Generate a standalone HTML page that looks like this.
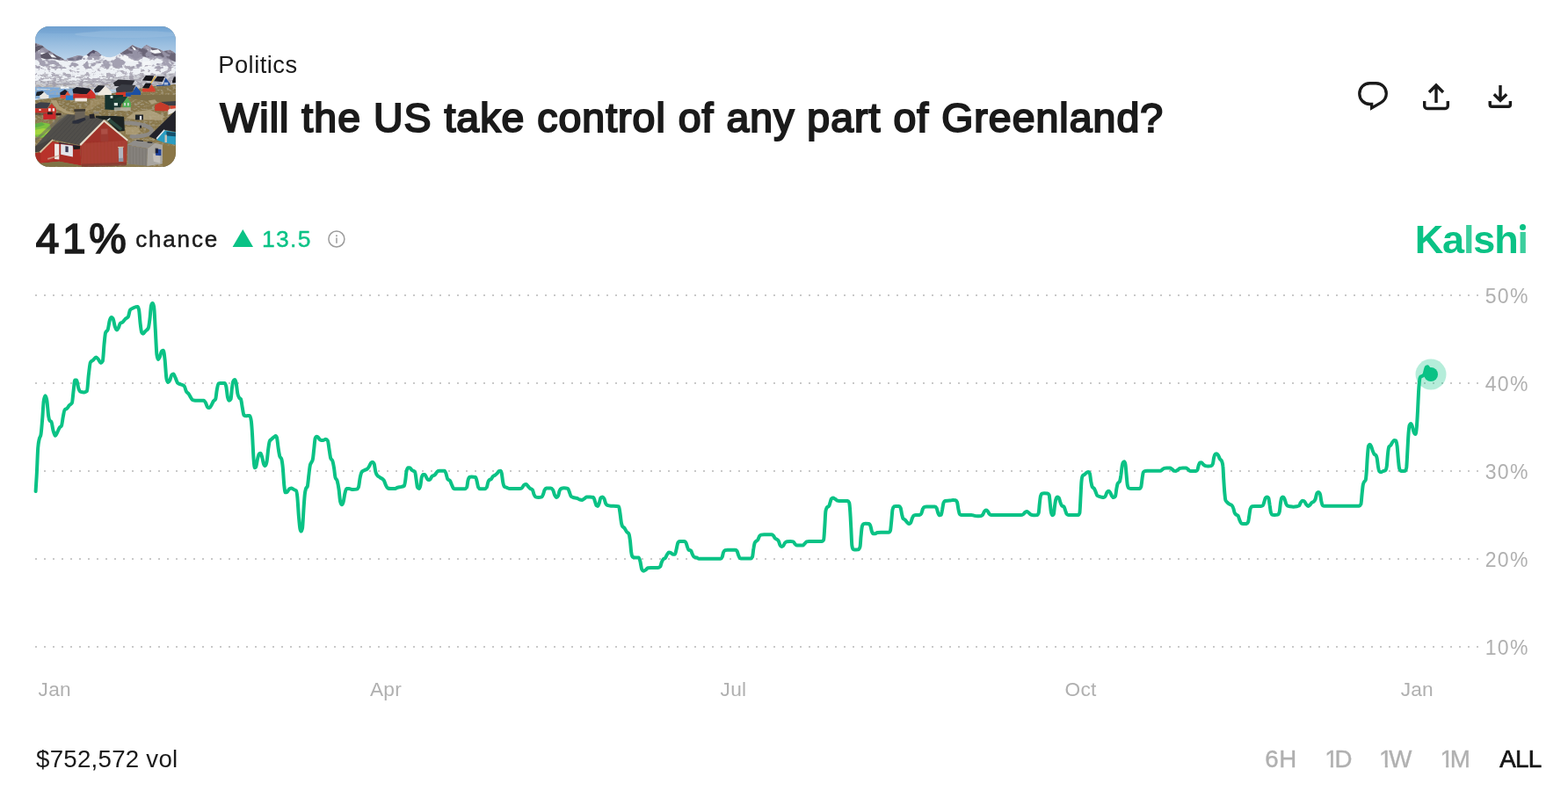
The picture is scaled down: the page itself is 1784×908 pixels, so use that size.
<!DOCTYPE html>
<html lang="en">
<head>
<meta charset="utf-8">
<title>Will the US take control of any part of Greenland? | Kalshi</title>
<style>
*{box-sizing:border-box;margin:0;padding:0}
html,body{width:1784px;height:908px;background:#fff;overflow:hidden}
body{position:relative;font-family:"Liberation Sans",Arial,Helvetica,sans-serif;color:#1a1a1a;-webkit-font-smoothing:antialiased}
.abs{position:absolute;white-space:nowrap;line-height:1}
.thumb{position:absolute;left:40px;top:30px;width:160px;height:160px;border-radius:16px;overflow:hidden;background:#8a8f8c}
.thumb svg{display:block;width:160px;height:160px}
.cat{left:248.2px;top:59.7px;font-size:27.3px;letter-spacing:0.5px;color:#1a1a1a}
h1.title{left:250.5px;top:111px;font-size:46.4px;font-weight:400;letter-spacing:1.05px;color:#1a1a1a;-webkit-text-stroke:2.1px #1a1a1a;paint-order:stroke fill}
.actions{position:absolute;left:1540px;top:88px;width:190px;height:44px}
.actions button{position:absolute;top:0;width:44px;height:44px;border:0;background:transparent;padding:0}
.actions svg{display:block;width:44px;height:44px;overflow:visible}
.pct{left:40.8px;top:247.6px;font-size:47.8px;font-weight:400;letter-spacing:3.6px;color:#1a1a1a;-webkit-text-stroke:1.7px #1a1a1a;paint-order:stroke fill}
.chance{left:154.3px;top:259px;font-size:26px;letter-spacing:1.8px;color:#1a1a1a;-webkit-text-stroke:0.5px #1a1a1a;paint-order:stroke fill}
.delta{left:298px;top:259px;font-size:26.5px;letter-spacing:1.3px;color:#0ac285;-webkit-text-stroke:0.4px #0ac285;paint-order:stroke fill}
.tri{position:absolute;left:263px;top:261px;width:26px;height:21px}
.info{position:absolute;left:372px;top:261px;width:22px;height:22px}
.logo{left:1609.7px;top:250px;font-size:45px;font-weight:700;letter-spacing:-1.15px;color:#0ac285}
.logo i{font-style:normal;color:#3bce9d}
.logo i.dot{position:relative}
.logo i.dot:before{content:"";position:absolute;left:-1px;top:0;width:12px;height:13.5px;background:#fff}
.logo i.dot:after{content:"";position:absolute;left:2.6px;top:8.1px;width:7px;height:7px;border-radius:50%;background:#0ac285}
#chart{position:absolute;left:0;top:0;width:1784px;height:908px;pointer-events:none}
#chart text{font-family:"Liberation Sans",Arial,Helvetica,sans-serif;font-size:22.7px;fill:#b0b0b0;letter-spacing:.2px}
#chart .ylab text{font-size:23.0px;letter-spacing:1.25px}
.vol{left:41.1px;top:849.55px;font-size:27.7px;letter-spacing:0.23px;color:#1a1a1a}
.ranges{position:absolute;left:0;top:0}
.ranges span{position:absolute;top:849.55px;font-size:27.7px;line-height:1;white-space:nowrap;color:#b0b0b0;letter-spacing:0;-webkit-text-stroke:0.35px #b0b0b0;paint-order:stroke fill}
.ranges span.on{color:#151515;-webkit-text-stroke:0.7px #151515}
.ranges b{font-weight:400;display:inline-block;letter-spacing:0;margin-right:-4.2px;clip-path:polygon(0 0,100% 0,100% calc(.7718em - 1.2px),calc(.3398em + .3px) calc(.7718em - 1.2px),calc(.3398em + .3px) 100%,calc(.2515em - .3px) 100%,calc(.2515em - .3px) calc(.7718em - 1.2px),0 calc(.7718em - 1.2px))}
</style>
</head>
<body>
<main>
<header>
  <div class="thumb">
    <svg viewBox="0 0 160 160" role="img" aria-label="Colorful houses in a Greenland town below snowy mountains"><defs><linearGradient id="sky" x1="0" y1="0" x2="0" y2="1"><stop offset="0" stop-color="#6c9fd0"/><stop offset=".06" stop-color="#80aed8"/><stop offset=".14" stop-color="#9bbfe0"/><stop offset=".24" stop-color="#b8d2ea"/><stop offset="1" stop-color="#b8d2ea"/></linearGradient><linearGradient id="grass" x1="0" y1="0" x2="0" y2="1"><stop offset="0" stop-color="#87764c"/><stop offset="1" stop-color="#8d7a4d"/></linearGradient><filter id="soft" x="-5%" y="-5%" width="110%" height="110%"><feGaussianBlur stdDeviation=".55"/></filter><filter id="rock" x="0" y="0" width="100%" height="100%"><feTurbulence type="fractalNoise" baseFrequency=".16 .22" numOctaves="3" seed="7" result="n"/><feColorMatrix in="n" type="matrix" values="0 0 0 0 .36  0 0 0 0 .34  0 0 0 0 .42  7 7 0 0 -7.25"/><feComposite operator="in" in2="SourceGraphic"/></filter><filter id="rock3" x="0" y="0" width="100%" height="100%"><feTurbulence type="fractalNoise" baseFrequency=".09 .13" numOctaves="3" seed="21" result="n"/><feColorMatrix in="n" type="matrix" values="0 0 0 0 .33  0 0 0 0 .31  0 0 0 0 .40  7 7 0 0 -6.75"/><feComposite operator="in" in2="SourceGraphic"/></filter><filter id="rock2" x="0" y="0" width="100%" height="100%"><feTurbulence type="fractalNoise" baseFrequency=".12 .4" numOctaves="3" seed="11" result="n"/><feColorMatrix in="n" type="matrix" values="0 0 0 0 .40  0 0 0 0 .39  0 0 0 0 .45  6 6 0 0 -5.9"/><feComposite operator="in" in2="SourceGraphic"/></filter><filter id="speck" x="0" y="0" width="100%" height="100%"><feTurbulence type="fractalNoise" baseFrequency=".3 .5" numOctaves="2" seed="3" result="n"/><feColorMatrix in="n" type="matrix" values="0 0 0 0 .45  0 0 0 0 .42  0 0 0 0 .33  3 3 0 0 -2.9"/><feComposite operator="in" in2="SourceGraphic"/></filter></defs><g filter="url(#soft)"><rect x="-2" y="-2" width="164" height="164" fill="url(#sky)"/><ellipse cx="105" cy="9" rx="60" ry="4" fill="#a3c3e2" opacity=".4"/><ellipse cx="30" cy="4" rx="45" ry="4" fill="#6f9fcf" opacity=".35"/><polygon points="0.0,18.8 4.1,20.5 8.3,22.1 13.1,26.3 17.8,28.7 24.4,33.0 30.1,35.8 33.9,38.6 37.7,36.7 43.4,34.8 49.1,33.1 54.7,34.1 58.5,32.5 62.3,29.2 66.1,26.8 70.8,28.7 75.6,33.0 81.2,35.0 86.0,35.3 90.7,33.9 96.4,31.1 101.1,28.0 104.9,25.4 108.2,23.0 110.6,21.1 113.0,22.5 115.3,23.5 118.2,24.4 121.0,25.4 123.9,23.0 126.7,21.1 129.5,22.5 132.4,24.0 135.2,24.4 138.1,24.9 141.9,26.3 145.6,28.2 149.4,27.6 153.2,26.8 157.0,28.7 159.8,31.1 159.8,71.8 0.0,71.8" fill="#eef1f5"/><polygon points="0.0,18.8 4.1,20.5 8.3,22.1 13.1,26.3 17.8,28.7 24.4,33.0 30.1,35.8 33.9,38.6 27.3,38.6 19.7,36.7 13.1,37.7 6.4,35.8 0.0,37.7" fill="#5d5868"/><polygon points="3.6,27.3 8.3,26.3 12.1,30.1 7.4,32.0 2.7,30.6" fill="#f2f4f7"/><polygon points="15.0,30.1 20.6,32.5 24.4,35.8 18.8,35.3" fill="#f2f4f7"/><polygon points="58.5,32.5 62.3,29.2 66.1,26.8 70.8,28.7 75.6,33.0 71.8,34.4 66.1,33.4 61.4,34.4" fill="#55516a"/><polygon points="35.8,36.7 43.4,34.8 49.1,33.1 54.7,34.1 52.8,37.7 45.3,39.6 37.7,39.1" fill="#77748a"/><polygon points="96.4,31.1 101.1,28.0 104.9,25.4 108.2,23.0 110.6,21.1 113.0,22.5 115.3,23.5 118.2,24.4 121.0,25.4 123.9,23.0 126.7,21.1 129.5,22.5 132.4,24.0 135.2,24.4 138.1,24.9 141.9,26.3 145.6,28.2 149.4,27.6 153.2,26.8 157.0,28.7 159.8,31.1 159.8,40.5 151.3,37.7 143.8,35.8 136.2,33.9 128.6,35.8 122.0,33.9 114.4,37.7 107.8,33.9 102.1,33.9" fill="#6a6577"/><polygon points="109.7,22.5 113.4,24.4 116.3,28.2 112.5,27.3" fill="#f4f6f8"/><polygon points="124.8,22.5 128.6,23.5 133.3,27.3 140.0,26.3 143.8,30.1 136.2,31.1 128.6,28.2" fill="#f4f6f8"/><polygon points="94.5,33.0 102.1,32.0 109.7,35.8 111.6,40.5 100.2,38.6" fill="#f4f6f8"/><polygon points="118.2,40.5 130.5,39.6 133.3,46.2 119.1,47.2 112.5,45.3" fill="#f4f6f8"/><clipPath id="mt"><polygon points="0.0,18.8 4.1,20.5 8.3,22.1 13.1,26.3 17.8,28.7 24.4,33.0 30.1,35.8 33.9,38.6 37.7,36.7 43.4,34.8 49.1,33.1 54.7,34.1 58.5,32.5 62.3,29.2 66.1,26.8 70.8,28.7 75.6,33.0 81.2,35.0 86.0,35.3 90.7,33.9 96.4,31.1 101.1,28.0 104.9,25.4 108.2,23.0 110.6,21.1 113.0,22.5 115.3,23.5 118.2,24.4 121.0,25.4 123.9,23.0 126.7,21.1 129.5,22.5 132.4,24.0 135.2,24.4 138.1,24.9 141.9,26.3 145.6,28.2 149.4,27.6 153.2,26.8 157.0,28.7 159.8,31.1 159.8,71.8 0.0,71.8"/></clipPath><g clip-path="url(#mt)"><rect x="0" y="14" width="160" height="34" fill="#000" filter="url(#rock3)" opacity=".9"/><rect x="0" y="44" width="160" height="30" fill="#000" filter="url(#rock)" opacity=".8"/><rect x="0" y="54" width="160" height="20" fill="#000" filter="url(#rock2)" opacity=".7"/></g><polygon points="0.0,62.3 33.9,61.4 71.8,62.3 100.2,56.6 119.1,56.6 159.8,52.8 159.8,71.8 0.0,71.8" fill="#8b8a95" opacity=".35"/><polygon points="0.0,68.9 27.3,69.4 45.3,69.9 49.1,82.0 0.0,82.0" fill="#7ea9d8"/><polygon points="28.2,68.2 37.7,68.5 39.1,70.8 29.2,71.0" fill="#f4f7fa"/><polygon points="1.7,70.8 16.9,71.3 16.9,72.3 1.7,72.0" fill="#c9dcee"/><path d="M0 84 L30 80 L60 79 L88 76 L110 72 L135 68 L160 66 L160 162 L0 162 Z" fill="url(#grass)"/><rect x="0" y="66" width="160" height="96" fill="#000" filter="url(#speck)" opacity=".55"/><polygon points="1.7,74.6 8.3,73.5 10.2,75.1 5.5,78.9 0.8,78.9" fill="#1d222c"/><polygon points="5.5,78.9 10.2,74.8 15.4,79.4 15.4,82.0 5.5,82.0" fill="#e9e6e1"/><polygon points="28.2,75.6 33.9,71.8 37.7,74.6 33.9,78.4 28.7,79.4" fill="#1b1f29"/><polygon points="28.7,79.4 33.9,78.2 36.7,73.7 40.1,78.4 40.1,82.0 28.7,82.0" fill="#e2553a"/><polygon points="42.4,71.8 47.2,68.9 62.3,70.8 64.2,74.6 58.5,77.5 43.4,76.5" fill="#1a1d27"/><polygon points="43.4,76.5 58.5,77.3 63.7,71.8 68.5,77.5 68.5,82.0 43.4,82.0" fill="#d0302a"/><polygon points="67.0,71.8 71.8,67.0 79.4,67.5 74.6,74.6 68.0,75.6" fill="#23252d"/><polygon points="71.3,76.5 79.8,67.8 86.9,74.6 86.9,78.4 71.3,78.4" fill="#efe9df"/><polygon points="88.8,64.2 94.5,60.4 113.4,61.4 109.7,68.0 90.7,68.0" fill="#2a2c33"/><polygon points="91.7,70.8 98.3,66.1 114.4,67.0 110.6,74.6 92.6,75.6" fill="#3a3d45"/><polygon points="91.7,75.6 103.0,74.6 103.0,80.3 91.7,80.3" fill="#cf3a2b"/><polygon points="103.0,75.6 110.6,75.1 114.9,68.0 120.1,74.6 120.1,79.4 103.0,79.8" fill="#1f4fa3"/><polygon points="122.0,61.4 125.8,55.9 135.2,56.2 132.4,62.3" fill="#15171e"/><polygon points="122.0,69.9 125.8,64.4 132.4,64.7 129.5,70.8" fill="#15171e"/><polygon points="122.0,70.8 129.1,70.8 132.4,66.1 136.6,71.8 136.6,74.6 122.0,74.6" fill="#d6402f"/><polygon points="131.0,64.4 136.6,56.6 137.8,57.1 132.1,65.0" fill="#e2b23c"/><polygon points="135.2,62.3 139.0,56.8 147.5,57.1 144.7,63.3" fill="#1b1d25"/><polygon points="138.1,67.0 145.2,66.6 148.5,58.5 153.7,65.6 153.7,67.2 138.1,68.0" fill="#1d4a9a"/><polygon points="146.6,63.7 151.3,63.7 151.3,66.6 146.6,66.6" fill="#e8eaee" opacity=".7"/><polygon points="156.1,62.3 158.0,57.6 159.8,57.4 159.8,64.2 156.1,64.4" fill="#14161c"/><polygon points="5.5,78.0 15.4,78.0 15.4,80.8 5.5,80.8" fill="#e9e6e1"/><polygon points="34.8,78.5 43.4,78.5 43.4,83.9 34.8,83.9" fill="#2b7fd0"/><polygon points="43.4,78.0 62.3,78.0 62.3,81.8 43.4,81.8" fill="#c52f2a"/><polygon points="45.3,81.6 59.0,81.6 59.0,85.4 45.3,85.4" fill="#efe9e2"/><polygon points="28.7,78.0 34.8,78.0 34.8,80.8 28.7,80.8" fill="#d94a35"/><polygon points="15.9,78.0 28.2,78.0 28.2,80.4 15.9,80.4" fill="#6fa0cf"/><polygon points="17.8,83.7 24.4,84.6 27.3,90.3 35.8,96.0 45.3,98.8 43.4,100.7 33.0,98.4 24.4,93.2 19.7,87.5" fill="#b3a27b" opacity=".85"/><polygon points="62.3,83.7 79.4,81.8 79.4,85.6 68.0,91.3 58.5,96.9 54.7,96.0 62.3,88.4" fill="#a8966c" opacity=".6"/><polygon points="0.0,88.4 5.5,86.3 17.3,87.0 14.0,93.6 0.0,93.2" fill="#3e4048"/><polygon points="0.0,93.2 14.0,93.6 18.8,87.9 24.0,94.1 24.0,98.4 0.0,98.4" fill="#c7312b"/><polygon points="15.0,93.2 17.8,93.2 17.8,96.5 15.0,96.5" fill="#f0ece6"/><polygon points="19.7,93.2 22.1,93.2 22.1,96.5 19.7,96.5" fill="#f0ece6"/><polygon points="4.4,94.1 6.6,94.1 6.6,96.0 4.4,96.0" fill="#f0ece6"/><polygon points="0.0,98.4 14.0,98.4 14.0,101.2 0.0,101.2" fill="#4a3f36" opacity=".6"/><polygon points="9.3,99.3 23.5,98.6 23.5,105.5 9.3,105.9" fill="#c9252a"/><polygon points="14.0,97.4 19.7,97.4 19.7,100.3 14.0,100.3" fill="#2a1f1c"/><polygon points="23.5,98.4 29.6,98.8 29.6,101.2 23.5,101.2" fill="#2a1f1c"/><polygon points="0.0,111.1 7.4,109.2 16.4,110.7 18.3,117.8 16.9,125.3 6.4,126.8 0.0,125.3" fill="#7fc241"/><polygon points="0.0,117.8 9.3,115.9 18.3,117.8 17.3,122.5 7.4,122.5 0.0,123.5" fill="#a5d63f"/><polygon points="0.0,111.1 7.4,109.2 11.2,112.1 3.6,114.5 0.0,114.9" fill="#5fae46"/><polygon points="79.4,78.0 100.2,78.0 99.2,83.7 96.4,95.5 79.4,94.6" fill="#17332d"/><polygon points="88.8,83.7 96.4,79.9 104.9,79.9 100.2,87.5 89.8,88.4" fill="#1f3f36"/><polygon points="99.7,87.5 104.9,80.4 108.9,87.0 108.9,92.2 99.7,92.2" fill="#4fae55"/><polygon points="89.8,87.0 94.0,87.0 94.0,90.3 89.8,90.3" fill="#d9e5df"/><polygon points="85.5,78.9 88.4,78.9 88.4,81.8 85.5,81.8" fill="#d9e5df"/><polygon points="101.1,87.0 103.0,87.0 103.0,90.3 101.1,90.3" fill="#c9d6c8"/><polygon points="104.9,87.0 106.8,87.0 106.8,90.3 104.9,90.3" fill="#c9d6c8"/><polygon points="89.8,92.2 108.7,92.2 108.7,96.0 89.8,96.0" fill="#b9b6a8" opacity=".8"/><polygon points="108.7,78.0 159.8,78.0 159.8,85.6 138.1,86.5 119.1,83.7 109.7,81.8" fill="#7f7048"/><polygon points="128.6,84.6 136.2,83.2 139.0,86.5 132.4,88.4" fill="#b7a988" opacity=".8"/><polygon points="114.4,96.9 130.5,95.0 147.5,102.6 143.8,106.4 119.1,106.4 103.0,104.5" fill="#b7a988" opacity=".75"/><polygon points="142.8,86.0 159.8,85.1 159.8,90.3 151.3,90.3" fill="#3b3c44"/><polygon points="136.2,89.4 142.6,86.3 152.3,90.3 153.2,96.5 136.2,96.0" fill="#c63a2b"/><polygon points="151.3,95.0 159.8,90.3 159.8,96.9 151.3,100.7" fill="#e6e3de"/><polygon points="153.2,90.3 159.8,90.3 159.8,93.2 154.2,94.1" fill="#d74432"/><polygon points="113.9,100.5 122.9,100.5 122.9,106.4 113.9,106.4" fill="#1c2026"/><polygon points="118.9,101.9 121.2,101.9 121.2,106.4 118.9,106.4" fill="#eeeeee"/><path d="M103.0 109.7 C 119.1 110.2, 134.3 114.0, 132.4 119.7 C 130.5 124.4, 119.1 125.3, 109.7 125.3" fill="none" stroke="#8d8a86" stroke-width="4.6" stroke-linecap="round"/><polygon points="103.0,114.0 117.2,114.9 120.1,119.7 114.4,123.5 103.0,122.5" fill="#b5a57f" opacity=".7"/><polygon points="119.1,112.8 121.0,112.8 121.0,115.7 119.1,115.7" fill="#2a2a2e"/><polygon points="68.9,101.7 90.7,102.1 101.1,102.8 101.9,118.7 94.5,119.7 81.2,106.4 68.9,105.5" fill="#1a2422"/><polygon points="81.2,106.4 85.0,104.5 99.2,115.9 97.3,118.7" fill="#2d4a3f"/><polygon points="81.7,106.6 85.0,104.3 85.8,105.0 82.7,107.4" fill="#dfe5df"/><polygon points="159.8,95.5 129.5,125.3 138.1,128.7 147.5,117.8 159.8,120.1" fill="#20232b"/><polygon points="138.1,128.7 147.5,118.2 159.8,120.6 159.8,134.8 147.5,132.5 139.0,129.6" fill="#2a9cc2"/><polygon points="137.6,127.2 146.6,117.3 147.7,118.2 138.8,128.4" fill="#e8eef2"/><polygon points="149.4,119.7 159.8,121.1 159.8,125.3 149.4,124.4" fill="#17506b"/><polygon points="147.5,123.5 149.9,123.5 149.9,132.0 147.5,132.0" fill="#c9c5ba"/><polygon points="36.7,100.0 62.3,101.7 78.4,106.4 50.9,135.3 19.7,128.7 0.0,139.6 0.0,136.7 27.3,106.4" fill="#514f4c"/><polygon points="0.0,136.7 19.7,127.2 19.7,129.6 5.0,142.4 0.0,143.3" fill="#444340"/><polygon points="29.2,100.7 37.7,100.3 27.3,109.2 0.0,131.0 0.0,128.2" fill="#6a6761" opacity=".55"/><line x1="40.5" y1="101.2" x2="13.1" y2="129.6" stroke="#3c3a37" stroke-width=".5" opacity=".6"/><line x1="44.8" y1="101.8" x2="17.6" y2="130.3" stroke="#3c3a37" stroke-width=".5" opacity=".6"/><line x1="49.1" y1="102.3" x2="22.2" y2="130.9" stroke="#3c3a37" stroke-width=".5" opacity=".6"/><line x1="53.3" y1="102.9" x2="26.7" y2="131.6" stroke="#3c3a37" stroke-width=".5" opacity=".6"/><line x1="57.6" y1="103.5" x2="31.2" y2="132.3" stroke="#3c3a37" stroke-width=".5" opacity=".6"/><line x1="61.8" y1="104.0" x2="35.8" y2="132.9" stroke="#3c3a37" stroke-width=".5" opacity=".6"/><line x1="66.1" y1="104.6" x2="40.3" y2="133.6" stroke="#3c3a37" stroke-width=".5" opacity=".6"/><line x1="70.4" y1="105.2" x2="44.9" y2="134.2" stroke="#3c3a37" stroke-width=".5" opacity=".6"/><line x1="74.6" y1="105.7" x2="49.4" y2="134.9" stroke="#3c3a37" stroke-width=".5" opacity=".6"/><polygon points="45.3,96.0 56.6,95.5 56.6,106.4 45.3,107.8" fill="#6b6358"/><polygon points="44.3,94.3 57.1,93.9 57.1,96.5 44.3,96.9" fill="#3a3733"/><polygon points="42.4,107.8 56.6,103.4 57.6,106.4 49.1,110.7 42.4,110.7" fill="#2c2f3a"/><polygon points="61.4,100.3 67.0,99.3 68.0,104.5 62.3,105.0" fill="#23242a"/><polygon points="66.6,97.4 72.7,96.9 72.7,99.3 66.6,99.6" fill="#8a8479"/><polygon points="0.0,144.3 5.5,143.3 19.7,131.0 50.9,136.0 52.8,158.5 27.3,153.8 6.4,155.7 0.0,150.0" fill="#a92d27"/><polygon points="6.4,143.3 19.7,131.5 21.6,132.0 21.6,151.9 6.4,155.2" fill="#b8332b"/><polygon points="5.0,142.4 19.7,128.2 20.5,129.6 6.0,144.3" fill="#d9c2a1"/><polygon points="22.1,133.4 27.3,133.9 27.3,151.4 22.1,150.9" fill="#eeeae6"/><polygon points="29.2,133.9 42.9,135.8 42.9,148.5 29.2,145.7" fill="#e3e5ea"/><polygon points="34.4,136.2 37.7,136.7 37.7,143.3 34.4,142.9" fill="#3a3b55"/><polygon points="27.3,132.0 50.9,136.0 50.9,138.6 42.9,137.2 42.9,135.3 29.2,133.4 27.3,133.9" fill="#2a2438"/><polygon points="43.4,136.7 50.9,136.0 51.4,139.6 43.8,140.0" fill="#1b1a1d"/><polygon points="50.9,135.8 78.4,108.8 104.9,130.3 104.0,156.8 52.8,158.7" fill="#a0362c"/><polygon points="52.8,134.8 77.5,110.7 78.4,131.0 53.8,134.8" fill="#a02d26" opacity=".5"/><line x1="54.7" y1="131.0" x2="55.3" y2="157.5" stroke="#8e2620" stroke-width=".55" opacity=".55"/><line x1="58.7" y1="131.0" x2="59.3" y2="157.5" stroke="#8e2620" stroke-width=".55" opacity=".55"/><line x1="62.7" y1="131.0" x2="63.3" y2="157.5" stroke="#8e2620" stroke-width=".55" opacity=".55"/><line x1="66.7" y1="131.0" x2="67.2" y2="157.5" stroke="#8e2620" stroke-width=".55" opacity=".55"/><line x1="70.6" y1="131.0" x2="71.2" y2="157.5" stroke="#8e2620" stroke-width=".55" opacity=".55"/><line x1="74.6" y1="131.0" x2="75.2" y2="157.5" stroke="#8e2620" stroke-width=".55" opacity=".55"/><line x1="78.6" y1="131.0" x2="79.2" y2="157.5" stroke="#8e2620" stroke-width=".55" opacity=".55"/><line x1="82.6" y1="131.0" x2="83.1" y2="157.5" stroke="#8e2620" stroke-width=".55" opacity=".55"/><line x1="86.6" y1="131.0" x2="87.1" y2="157.5" stroke="#8e2620" stroke-width=".55" opacity=".55"/><line x1="90.5" y1="131.0" x2="91.1" y2="157.5" stroke="#8e2620" stroke-width=".55" opacity=".55"/><line x1="94.5" y1="131.0" x2="95.1" y2="157.5" stroke="#8e2620" stroke-width=".55" opacity=".55"/><line x1="98.5" y1="131.0" x2="99.1" y2="157.5" stroke="#8e2620" stroke-width=".55" opacity=".55"/><line x1="102.5" y1="131.0" x2="103.0" y2="157.5" stroke="#8e2620" stroke-width=".55" opacity=".55"/><polygon points="52.8,132.9 104.0,130.1 104.0,157.1 52.8,158.7" fill="#b4503f" opacity=".45"/><polygon points="74.1,115.9 83.1,115.7 83.3,131.0 74.4,131.2" fill="#9c3a31"/><polygon points="75.1,116.8 82.4,116.6 82.5,122.5 75.2,122.7" fill="#b55a4e" opacity=".7"/><polygon points="94.7,137.8 100.0,137.7 100.2,153.8 95.1,153.9" fill="#b0b6c0"/><polygon points="94.1,136.9 100.6,136.7 100.6,137.8 94.1,138.0" fill="#d8c9a8"/><polygon points="95.1,150.0 100.2,149.8 100.2,153.9 95.1,154.1" fill="#8e96a3"/><polygon points="50.5,133.9 78.2,106.2 79.7,107.5 51.9,136.0" fill="#e6dccb"/><polygon points="78.2,106.2 105.9,129.1 104.9,130.7 77.5,108.1" fill="#e6dccb"/><polygon points="52.8,156.6 104.0,154.7 104.0,158.5 52.8,160.4" fill="#7d3a30" opacity=".7"/><polygon points="14.0,150.0 27.3,146.2 27.7,147.6 14.5,151.7" fill="#caa58f" opacity=".8"/><polygon points="104.5,134.8 113.0,129.6 136.2,132.5 128.1,138.8" fill="#8f8d8a"/><polygon points="104.9,135.3 128.1,139.1 127.2,159.0 105.4,156.6" fill="#85817b"/><polygon points="128.1,139.1 136.2,132.7 145.2,134.8 144.7,156.6 127.2,159.0" fill="#a9a6a0"/><polygon points="133.8,144.3 142.3,148.1 142.3,155.7 134.8,153.8" fill="#c9c6c0" opacity=".8"/><polygon points="137.1,139.6 143.3,140.0 143.3,147.1 137.1,146.7" fill="#1f3f9a"/><polygon points="136.6,138.6 140.0,138.8 140.0,144.3 136.6,144.3" fill="#10131a" opacity=".7"/><line x1="107.8" y1="136.2" x2="108.0" y2="157.1" stroke="#6d6964" stroke-width=".5" opacity=".7"/><line x1="111.4" y1="136.8" x2="111.6" y2="157.4" stroke="#6d6964" stroke-width=".5" opacity=".7"/><line x1="115.0" y1="137.4" x2="115.2" y2="157.6" stroke="#6d6964" stroke-width=".5" opacity=".7"/><line x1="118.6" y1="137.9" x2="118.8" y2="157.9" stroke="#6d6964" stroke-width=".5" opacity=".7"/><line x1="122.2" y1="138.5" x2="122.3" y2="158.2" stroke="#6d6964" stroke-width=".5" opacity=".7"/><line x1="125.8" y1="139.1" x2="125.9" y2="158.5" stroke="#6d6964" stroke-width=".5" opacity=".7"/><polygon points="115.3,129.1 122.9,129.9 122.9,131.0 115.3,130.3" fill="#2a2a2a"/><polygon points="127.7,131.0 133.3,131.6 133.3,132.9 127.7,132.4" fill="#2a2a2a"/><polygon points="145.2,134.8 159.8,136.7 159.8,159.6 145.2,159.6" fill="#8a7646"/><polygon points="0.0,156.6 27.3,153.8 52.8,158.5 52.8,159.6 0.0,159.6" fill="#7f7345"/><polygon points="104.0,156.6 128.6,159.0 128.6,159.6 104.0,159.6" fill="#8a7c52"/></g></svg>
  </div>
  <div class="abs cat">Politics</div>
  <h1 class="abs title">Will the US take control of any part of Greenland?</h1>
  <nav class="actions">
    <button aria-label="Comments" style="left:0"><svg viewBox="0 0 44 44"><path d="M18.500 6.750H25.500C32.200 6.750 37.300 11.700 37.300 18.400C37.300 23 35 26.300 31 28.800L20.650 34.950L20.650 30.500H18.500C11.800 30.500 6.750 25.200 6.750 18.500C6.750 11.700 11.800 6.750 18.500 6.750Z" fill="none" stroke="#1a1a1a" stroke-width="3.300" stroke-linejoin="miter"/></svg></button>
    <button aria-label="Share" style="left:72px"><svg viewBox="0 0 44 44"><path d="M22 28.900V9.500M14 17l8-8 8 8" fill="none" stroke="#1a1a1a" stroke-width="3.400" stroke-linecap="butt" stroke-linejoin="miter"/><path d="M8.700 27v5.500a3 3 0 0 0 3 3h20.600a3 3 0 0 0 3-3V27" fill="none" stroke="#1a1a1a" stroke-width="3.400"/></svg></button>
    <button aria-label="Download" style="left:145px"><svg viewBox="0 0 44 44"><path d="M22 9v17.500M14.800 19.200l7.200 7.200 7.200-7.200" fill="none" stroke="#1a1a1a" stroke-width="3.400"/><path d="M10.200 27v4a2.300 2.300 0 0 0 2.300 2.300h18.600a2.300 2.300 0 0 0 2.300-2.300V27" fill="none" stroke="#1a1a1a" stroke-width="3.400"/></svg></button>
  </nav>
</header>
<section>
  <div class="abs pct">41%</div>
  <div class="abs chance">chance</div>
  <svg class="tri" viewBox="0 0 26 21"><path d="M13.3 0.1 L25 19.9 L1.6 19.9 Z" fill="#0ac285"/></svg>
  <div class="abs delta">13.5</div>
  <svg class="info" viewBox="0 0 22 22"><circle cx="10.9" cy="11" r="9" fill="none" stroke="#9c9c9c" stroke-width="1.5"/><rect x="10.2" y="9.5" width="1.5" height="6.3" fill="#9c9c9c"/><circle cx="10.95" cy="7.2" r="1" fill="#9c9c9c"/></svg>
  <div class="abs logo">Ka<i>l</i>sh<i class="dot">i</i></div>
</section>
<svg id="chart" viewBox="0 0 1784 908">
  <g stroke="#c9c9c9" stroke-width="2" stroke-dasharray="2 8" fill="none">
    <path d="M40 336H1682"/><path d="M40 436H1682"/><path d="M40 536H1682"/><path d="M40 636H1682"/><path d="M40 736H1682"/>
  </g>
  <g class="ylab" text-anchor="end">
    <text x="1739.6" y="344.5">50%</text>
    <text x="1739.6" y="444.5">40%</text>
    <text x="1739.6" y="544.5">30%</text>
    <text x="1739.6" y="644.5">20%</text>
    <text x="1739.6" y="744.5">10%</text>
  </g>
  <g>
    <text x="43.6" y="792">Jan</text>
    <text x="421" y="792">Apr</text>
    <text x="819.6" y="792">Jul</text>
    <text x="1211.6" y="792">Oct</text>
    <text x="1593.7" y="792">Jan</text>
  </g>
  <path id="line" fill="none" stroke="#0ac285" stroke-width="4" stroke-linejoin="round" stroke-linecap="round" d="M40.6,559.1C41.0,551.9 41.5,545.7 41.9,537.5C42.3,529.3 42.8,515.5 43.2,509.7C43.7,503.0 44.2,502.1 44.7,499.6C45.3,496.6 45.9,497.9 46.5,494.5C47.1,491.3 47.6,483.6 48.2,476.8C48.7,470.8 49.2,460.0 49.7,456.5C50.3,452.3 50.9,450.2 51.5,450.2C52.1,450.2 52.7,451.9 53.3,455.3C54.0,459.1 54.6,470.3 55.3,474.2C55.7,476.7 56.2,478.3 56.6,478.8C57.2,479.5 57.8,479.1 58.4,479.8C59.1,480.5 59.7,486.9 60.4,489.4C61.2,492.6 62.1,495.8 62.9,495.8C63.7,495.8 64.6,493.1 65.4,491.5C66.1,490.1 66.8,488.1 67.5,486.9C68.3,485.5 69.2,486.1 70.0,484.4C70.6,483.2 71.2,477.2 71.8,474.2C72.4,471.3 72.9,467.4 73.5,466.6C74.4,465.3 75.4,465.6 76.3,464.6C77.2,463.7 78.0,462.1 78.9,461.1C79.9,460.0 80.9,460.2 81.9,458.5C82.5,457.5 83.1,448.6 83.7,443.9C84.2,440.0 84.7,432.5 85.2,432.5C85.9,432.5 86.5,432.5 87.2,432.5C87.9,432.5 88.5,439.1 89.2,441.3C90.1,444.3 91.1,445.7 92.0,445.9C93.3,446.2 94.5,446.4 95.8,446.4C96.8,446.4 97.9,446.0 98.9,445.1C99.6,444.5 100.2,431.6 100.9,426.1C101.6,420.6 102.2,413.3 102.9,412.2C103.9,410.5 104.9,410.6 105.9,409.7C107.0,408.7 108.1,406.6 109.2,406.6C110.0,406.6 110.7,407.6 111.5,408.4C112.6,409.5 113.7,413.0 114.8,413.0C115.5,413.0 116.1,412.3 116.8,410.9C117.4,409.6 118.0,396.4 118.6,390.7C119.1,385.9 119.6,379.8 120.1,378.5C121.0,376.2 121.8,377.3 122.7,375.0C123.4,373.0 124.2,366.2 124.9,364.1C125.6,362.1 126.3,361.1 127.0,361.1C127.6,361.1 128.1,361.7 128.7,362.8C129.4,364.2 130.1,369.6 130.8,371.7C131.5,373.7 132.1,375.5 132.8,375.5C133.5,375.5 134.1,374.3 134.8,373.0C135.5,371.7 136.1,368.6 136.8,367.9C137.7,367.0 138.5,367.3 139.4,366.6C140.5,365.7 141.6,363.9 142.7,362.8C143.8,361.8 144.8,362.0 145.9,360.3C146.6,359.2 147.3,353.6 148.0,352.7C149.0,351.4 150.0,351.2 151.0,350.7C152.0,350.1 153.1,349.7 154.1,349.4C154.9,349.2 155.8,348.9 156.6,348.9C157.1,348.9 157.6,350.2 158.1,352.7C158.6,355.2 159.1,363.7 159.6,367.9C160.1,372.1 160.6,377.0 161.1,378.0C161.7,379.2 162.3,379.8 162.9,379.8C163.7,379.8 164.6,377.7 165.4,376.8C166.5,375.6 167.6,375.7 168.7,373.5C169.3,372.3 169.9,367.7 170.5,362.8C171.0,358.7 171.5,349.4 172.0,347.7C172.5,346.0 173.0,345.1 173.5,345.1C174.0,345.1 174.6,346.4 175.1,348.9C175.7,351.6 176.2,366.1 176.8,375.5C177.3,384.3 177.9,399.5 178.4,403.4C178.9,407.1 179.4,408.9 179.9,408.9C180.6,408.9 181.2,407.4 181.9,405.9C182.6,404.3 183.2,400.1 183.9,399.6C184.6,399.1 185.2,398.8 185.9,398.8C186.4,398.8 187.0,403.9 187.5,408.4C188.2,414.0 188.8,428.4 189.5,431.2C190.1,433.7 190.7,435.0 191.3,435.0C192.0,435.0 192.6,433.9 193.3,432.5C194.0,431.1 194.6,427.3 195.3,426.6C196.0,425.9 196.6,425.6 197.3,425.6C198.1,425.6 198.8,428.3 199.6,429.9C200.5,431.7 201.3,435.0 202.2,435.8C203.4,436.9 204.7,436.9 205.9,437.5C207.2,438.1 208.4,438.1 209.7,439.3C210.4,440.0 211.1,443.6 211.8,445.1C212.8,447.2 213.8,447.0 214.8,448.4C215.6,449.6 216.5,451.5 217.3,452.7C218.0,453.7 218.7,454.9 219.4,455.2C220.3,455.5 221.1,455.7 222.0,455.7C225.3,455.7 228.6,455.7 231.9,455.7C232.6,455.7 233.4,457.2 234.1,458.5C234.8,459.8 235.6,463.3 236.3,463.6C237.0,463.9 237.8,464.1 238.5,464.1C239.2,464.1 240.0,462.0 240.7,460.7C241.5,459.4 242.2,457.4 243.0,456.3C243.7,455.2 244.5,455.6 245.2,454.1C245.7,453.1 246.2,447.0 246.7,444.2C247.3,440.9 247.9,436.8 248.5,436.5C249.2,436.1 250.0,435.9 250.7,435.9C252.3,435.9 253.9,435.9 255.5,435.9C256.1,435.9 256.7,437.2 257.3,439.8C257.9,442.3 258.4,449.5 259.0,451.9C259.6,454.4 260.2,455.7 260.8,455.7C261.4,455.7 262.0,455.2 262.6,454.1C263.0,453.3 263.5,445.3 263.9,442.0C264.4,438.2 264.9,434.7 265.4,433.7C265.9,432.6 266.5,432.1 267.0,432.1C267.5,432.1 268.0,433.1 268.5,435.0C269.2,437.6 269.8,445.7 270.5,448.6C271.1,451.1 271.6,451.7 272.2,452.6C272.8,453.6 273.4,453.1 274.0,454.1C274.6,455.1 275.2,461.0 275.8,464.1C276.4,467.1 276.9,471.9 277.5,472.4C278.2,473.0 279.0,473.3 279.7,473.3C281.2,473.3 282.6,472.9 284.1,472.9C284.7,472.9 285.3,475.1 285.9,479.5C286.3,482.7 286.8,490.1 287.2,497.1C287.6,504.1 288.1,515.5 288.5,521.3C289.0,527.6 289.4,532.3 289.9,532.3C290.3,532.3 290.8,531.9 291.2,531.2C291.8,530.2 292.4,524.9 293.0,522.4C293.6,520.0 294.1,516.9 294.7,516.5C295.3,516.0 295.9,515.8 296.5,515.8C297.1,515.8 297.6,518.3 298.2,520.2C298.8,522.2 299.4,526.4 300.0,527.9C300.6,529.4 301.2,530.1 301.8,530.1C302.4,530.1 302.9,528.6 303.5,525.7C304.1,522.6 304.7,514.5 305.3,510.3C305.8,506.8 306.3,502.9 306.8,501.9C307.5,500.4 308.3,500.4 309.0,499.7C310.0,498.8 310.9,497.8 311.9,497.1C312.5,496.7 313.1,496.0 313.7,496.0C314.1,496.0 314.6,496.7 315.0,498.2C315.6,500.1 316.1,506.7 316.7,510.3C317.2,513.7 317.8,517.3 318.3,519.1C319.0,521.3 319.6,520.2 320.3,522.4C320.8,524.0 321.3,527.3 321.8,532.3C322.3,537.3 322.8,547.5 323.3,552.2C323.8,556.6 324.2,560.3 324.7,560.3C325.4,560.3 326.0,560.2 326.7,559.9C327.4,559.6 328.2,557.3 328.9,556.6C329.7,555.9 330.5,555.5 331.3,555.5C332.3,555.5 333.4,556.5 334.4,557.0C335.3,557.4 336.1,557.4 337.0,558.3C337.4,558.7 337.9,561.4 338.3,565.4C338.8,570.3 339.4,581.2 339.9,587.4C340.4,593.2 340.9,599.5 341.4,601.7C341.8,603.6 342.3,604.6 342.7,604.6C343.2,604.6 343.6,603.3 344.1,600.6C344.5,598.1 345.0,587.0 345.4,580.8C345.8,574.6 346.3,567.3 346.7,563.2C347.1,559.1 347.6,557.4 348.0,556.1C348.6,554.2 349.2,555.2 349.8,553.3C350.3,551.7 350.8,545.0 351.3,541.1C351.8,536.9 352.4,531.1 352.9,529.0C353.5,526.8 354.0,527.0 354.6,525.7C355.0,524.7 355.5,524.6 355.9,522.4C356.4,520.0 356.8,514.4 357.3,510.3C357.7,506.5 358.2,500.2 358.6,498.9C359.1,497.4 359.6,496.7 360.1,496.7C360.7,496.7 361.3,497.0 361.9,497.5C362.6,498.1 363.4,500.1 364.1,500.4C365.2,500.9 366.3,501.1 367.4,501.1C368.5,501.1 369.6,499.7 370.7,499.7C371.4,499.7 372.2,500.3 372.9,501.5C373.4,502.3 373.9,507.3 374.4,510.3C375.0,513.9 375.6,519.5 376.2,521.3C376.9,523.5 377.7,522.4 378.4,524.6C378.9,526.2 379.5,529.0 380.0,532.3C380.5,535.4 381.0,541.5 381.5,543.3C382.2,546.0 383.0,544.6 383.7,547.3C384.3,549.5 384.9,552.5 385.5,556.6C386.1,560.5 386.6,568.8 387.2,570.9C387.8,573.1 388.4,574.2 389.0,574.2C389.6,574.2 390.1,573.0 390.7,570.9C391.3,568.7 391.9,563.5 392.5,561.0C393.1,558.5 393.7,556.1 394.3,556.1C395.2,556.1 396.2,556.1 397.1,556.1C398.6,556.1 400.0,557.0 401.5,557.0C403.0,557.0 404.4,556.9 405.9,556.6C406.6,556.5 407.2,555.9 407.9,554.4C408.5,553.1 409.1,546.2 409.7,543.3C410.3,540.4 410.9,538.0 411.5,537.2C412.6,535.7 413.7,535.6 414.8,535.0C415.9,534.4 417.0,534.5 418.1,533.4C418.8,532.7 419.6,531.4 420.3,530.1C420.9,529.1 421.4,527.5 422.0,526.8C422.6,526.1 423.2,525.7 423.8,525.7C424.4,525.7 425.0,526.3 425.6,527.5C426.2,528.6 426.7,534.5 427.3,536.7C427.9,539.0 428.5,539.8 429.1,540.7C430.2,542.4 431.3,542.4 432.4,543.3C433.9,544.4 435.3,544.4 436.8,546.7C437.5,547.8 438.3,550.7 439.0,552.2C439.7,553.7 440.5,555.2 441.2,555.5C442.3,555.9 443.4,556.1 444.5,556.1C446.0,556.1 447.4,556.1 448.9,556.1C450.0,556.1 451.1,555.1 452.2,554.8C453.7,554.3 455.1,554.3 456.6,553.9C457.7,553.6 458.8,553.5 459.9,552.8C460.3,552.5 460.8,549.4 461.2,546.7C461.7,543.8 462.1,537.4 462.6,535.6C463.2,533.4 463.7,532.3 464.3,532.3C464.9,532.3 465.5,532.3 466.1,532.3C467.0,532.3 467.8,534.3 468.7,535.0C469.8,535.9 470.9,535.6 472.0,536.7C472.5,537.2 473.1,542.3 473.6,545.6C474.0,548.3 474.5,553.6 474.9,554.4C475.5,555.5 476.1,556.1 476.7,556.1C477.3,556.1 477.8,554.8 478.4,552.2C478.8,550.2 479.3,544.9 479.7,543.3C480.3,541.1 480.9,540.0 481.5,540.0C482.1,540.0 482.7,540.0 483.3,540.0C483.9,540.0 484.6,542.2 485.2,543.3C485.8,544.2 486.3,546.0 486.9,546.0C487.6,546.0 488.2,546.0 488.9,546.0C489.8,546.0 490.6,542.9 491.5,542.0C492.6,540.8 493.8,541.4 494.9,540.2C495.7,539.3 496.6,537.4 497.4,536.7C498.2,536.0 499.0,535.7 499.8,535.7C501.8,535.7 503.8,535.7 505.8,535.7C506.3,535.7 506.9,537.3 507.4,538.7C508.0,540.3 508.7,544.3 509.3,545.2C510.2,546.5 511.2,545.9 512.1,547.2C512.8,548.2 513.4,550.5 514.1,551.9C514.8,553.3 515.4,555.7 516.1,555.9C517.0,556.2 517.8,556.3 518.7,556.3C522.0,556.3 525.3,556.3 528.6,556.3C529.4,556.3 530.3,555.7 531.1,554.5C531.6,553.8 532.0,548.5 532.5,546.6C533.0,544.7 533.4,543.1 533.9,543.0C534.8,542.7 535.6,542.6 536.5,542.6C538.0,542.6 539.6,542.7 541.1,543.0C541.6,543.1 542.1,545.8 542.6,547.6C543.1,549.6 543.7,553.6 544.2,554.5C544.9,555.7 545.7,556.3 546.4,556.3C548.1,556.3 549.7,556.3 551.4,556.3C552.2,556.3 553.0,555.7 553.8,554.5C554.3,553.8 554.8,550.0 555.3,548.6C555.8,547.1 556.4,546.5 556.9,546.0C557.6,545.3 558.2,545.7 558.9,545.0C559.6,544.3 560.2,542.7 560.9,542.0C561.7,541.1 562.5,541.2 563.3,540.6C564.1,540.1 564.8,539.5 565.6,538.7C566.3,538.0 566.9,536.4 567.6,536.1C568.3,535.8 568.9,535.7 569.6,535.7C570.0,535.7 570.4,536.9 570.8,538.7C571.3,540.9 571.7,546.1 572.2,548.6C572.7,551.1 573.1,553.1 573.6,553.5C574.5,554.3 575.3,554.3 576.2,554.7C577.5,555.2 578.8,556.1 580.1,556.1C583.7,556.1 587.4,556.1 591.0,556.1C592.0,556.1 593.0,555.8 594.0,555.1C594.7,554.7 595.3,552.3 596.0,551.9C596.9,551.4 597.7,551.1 598.6,551.1C599.4,551.1 600.1,552.7 600.9,553.5C601.7,554.3 602.5,555.2 603.3,555.9C604.2,556.6 605.0,556.4 605.9,557.5C606.4,558.2 607.0,561.2 607.5,562.5C608.1,563.9 608.7,565.2 609.3,565.4C610.5,565.8 611.6,566.0 612.8,566.0C614.0,566.0 615.2,565.8 616.4,565.4C616.9,565.2 617.5,563.8 618.0,562.5C618.5,561.2 619.1,558.6 619.6,557.5C620.3,556.2 620.9,555.5 621.6,555.5C623.3,555.5 625.0,555.5 626.7,555.5C627.5,555.5 628.3,556.2 629.1,557.5C629.8,558.6 630.4,562.0 631.1,563.4C631.8,564.8 632.4,566.0 633.1,566.0C633.7,566.0 634.4,565.5 635.0,564.4C635.5,563.5 636.1,559.9 636.6,558.5C637.3,556.8 637.9,556.2 638.6,555.9C639.6,555.5 640.6,555.3 641.6,555.3C643.1,555.3 644.6,555.5 646.1,555.9C646.6,556.0 647.2,558.2 647.7,559.5C648.3,561.0 648.9,563.7 649.5,564.4C650.4,565.5 651.2,565.7 652.1,566.0C653.5,566.5 655.0,566.3 656.4,566.8C657.4,567.2 658.4,568.0 659.4,568.4C660.4,568.8 661.4,569.0 662.4,569.0C663.2,569.0 664.0,567.9 664.8,567.4C665.7,566.8 666.5,565.7 667.4,565.6C668.7,565.5 670.0,565.4 671.3,565.4C672.6,565.4 674.0,565.6 675.3,566.0C675.8,566.2 676.4,568.9 676.9,570.4C677.5,572.0 678.1,574.8 678.7,575.3C679.2,575.7 679.7,575.9 680.2,575.9C680.7,575.9 681.3,574.0 681.8,572.4C682.3,570.8 682.9,566.9 683.4,566.4C684.1,565.7 684.7,565.4 685.4,565.4C686.1,565.4 686.7,566.1 687.4,567.4C688.0,568.6 688.6,571.8 689.2,573.0C689.8,574.3 690.5,574.6 691.1,574.9C692.4,575.4 693.8,575.6 695.1,575.7C697.1,575.8 699.1,575.8 701.1,575.9C702.1,576.0 703.0,576.0 704.0,576.3C704.5,576.4 704.9,580.4 705.4,583.3C705.9,586.6 706.5,592.6 707.0,595.2C707.3,596.8 707.7,597.9 708.0,598.5C708.8,600.0 709.6,599.7 710.4,600.7C711.3,601.8 712.1,604.0 713.0,605.1C713.8,606.2 714.7,605.9 715.5,607.5C716.0,608.4 716.4,611.4 716.9,615.0C717.4,618.6 717.8,626.0 718.3,628.9C718.8,632.2 719.4,633.6 719.9,633.8C720.9,634.2 721.9,634.4 722.9,634.4C724.2,634.4 725.5,634.4 726.8,634.4C727.3,634.4 727.9,636.8 728.4,638.8C729.0,641.1 729.6,646.5 730.2,647.7C730.9,649.0 731.5,649.7 732.2,649.7C733.1,649.7 733.9,648.9 734.8,648.3C735.6,647.8 736.3,646.4 737.1,646.3C738.3,646.2 739.5,646.1 740.7,646.1C743.3,646.1 746.0,646.1 748.6,646.1C749.5,646.1 750.3,645.6 751.2,644.7C751.7,644.1 752.3,641.1 752.8,639.8C753.4,638.3 754.0,637.2 754.6,636.4C755.4,635.3 756.2,635.9 757.0,634.8C757.7,633.9 758.4,631.9 759.1,630.8C759.8,629.8 760.4,628.5 761.1,628.5C761.9,628.5 762.7,628.9 763.5,629.3C764.3,629.7 765.1,630.8 765.9,630.8C766.6,630.8 767.4,630.7 768.1,630.5C768.7,630.3 769.2,626.2 769.8,623.9C770.3,621.8 770.9,618.2 771.4,617.4C772.0,616.5 772.6,616.0 773.2,616.0C775.0,616.0 776.7,616.0 778.5,616.0C779.1,616.0 779.8,616.4 780.4,617.3C780.9,618.0 781.4,620.5 781.9,621.9C782.4,623.2 782.8,625.0 783.3,625.4C784.2,626.2 785.2,625.8 786.1,626.6C786.7,627.1 787.2,629.5 787.8,630.7C788.4,631.9 789.0,633.4 789.6,633.7C790.6,634.2 791.6,634.1 792.6,634.5C793.5,634.8 794.3,635.8 795.2,635.8C803.4,635.8 811.7,635.8 819.9,635.8C820.5,635.8 821.1,635.1 821.7,633.7C822.2,632.6 822.6,629.7 823.1,628.4C823.7,626.9 824.2,626.3 824.8,626.1C825.8,625.8 826.8,625.7 827.8,625.7C830.8,625.7 833.7,625.7 836.7,625.7C837.3,625.7 838.0,626.2 838.6,627.1C839.1,627.9 839.7,630.6 840.2,631.9C840.7,633.2 841.3,634.9 841.8,635.1C842.7,635.4 843.7,635.6 844.6,635.6C847.8,635.6 851.1,635.6 854.3,635.6C854.9,635.6 855.4,635.0 856.0,633.7C856.5,632.7 856.9,626.7 857.4,624.0C857.8,621.5 858.3,618.9 858.7,617.8C859.2,616.6 859.6,616.5 860.1,616.0C860.8,615.2 861.5,615.4 862.2,614.3C862.8,613.3 863.4,611.2 864.0,610.2C864.6,609.3 865.1,608.7 865.7,608.6C866.9,608.4 868.1,608.3 869.3,608.3C872.2,608.3 875.2,608.3 878.1,608.3C878.8,608.3 879.5,609.1 880.2,609.9C880.8,610.6 881.3,611.9 881.9,612.5C882.7,613.4 883.4,613.2 884.2,613.9C884.8,614.5 885.4,614.7 886.0,616.0C886.5,617.0 886.9,619.2 887.4,620.1C888.0,621.3 888.6,621.9 889.2,621.9C889.9,621.9 890.6,621.5 891.3,620.8C891.9,620.2 892.4,618.5 893.0,617.8C893.8,616.8 894.5,616.3 895.3,616.2C896.6,616.1 897.9,616.0 899.2,616.0C900.4,616.0 901.5,616.1 902.7,616.4C903.3,616.5 903.9,618.3 904.5,619.0C905.2,619.8 905.9,620.6 906.6,620.6C908.8,620.6 911.1,620.6 913.3,620.6C914.0,620.6 914.7,619.4 915.4,618.7C916.2,618.0 916.9,616.7 917.7,616.4C918.6,616.1 919.5,615.9 920.4,615.9C925.4,615.9 930.3,615.9 935.3,615.9C935.9,615.9 936.5,615.4 937.1,614.3C937.5,613.6 937.9,605.0 938.3,599.3C938.7,594.0 939.0,584.1 939.4,581.7C939.8,579.1 940.2,578.5 940.6,577.8C941.5,576.3 942.4,577.0 943.3,575.5C943.8,574.7 944.2,572.5 944.7,571.1C945.1,569.9 945.5,568.1 945.9,567.6C946.5,566.9 947.1,566.5 947.7,566.5C948.5,566.5 949.2,567.1 950.0,567.6C950.7,568.1 951.4,569.0 952.1,569.3C953.0,569.7 953.8,569.9 954.7,569.9C957.9,569.9 961.2,569.9 964.4,569.9C965.0,569.9 965.6,570.6 966.2,572.0C966.5,572.8 966.9,577.2 967.2,581.7C967.6,586.6 967.9,594.3 968.3,601.1C968.6,607.3 969.0,618.1 969.3,620.4C969.7,623.3 970.2,624.5 970.6,624.8C971.2,625.2 971.7,625.4 972.3,625.4C973.8,625.4 975.2,625.3 976.7,625.2C977.3,625.1 977.9,624.2 978.5,622.2C978.9,621.0 979.2,613.6 979.6,609.9C980.0,605.9 980.4,600.9 980.8,599.3C981.3,597.2 981.9,596.2 982.4,596.1C983.2,595.9 983.9,595.8 984.7,595.8C986.0,595.8 987.4,595.9 988.7,596.1C989.3,596.2 989.9,597.1 990.5,598.9C991.0,600.3 991.4,603.2 991.9,604.6C992.4,606.2 993.0,607.2 993.5,607.2C994.3,607.2 995.0,607.2 995.8,607.2C996.6,607.2 997.4,606.1 998.2,606.0C999.6,605.9 1000.9,605.8 1002.3,605.8C1005.2,605.8 1008.2,605.8 1011.1,605.8C1011.7,605.8 1012.4,605.1 1013.0,603.7C1013.4,602.7 1013.9,596.3 1014.3,592.2C1014.7,588.4 1015.1,581.7 1015.5,579.9C1016.0,577.8 1016.4,577.0 1016.9,576.7C1017.6,576.2 1018.3,576.0 1019.0,576.0C1020.3,576.0 1021.6,576.0 1022.9,576.0C1023.5,576.0 1024.1,576.7 1024.7,578.1C1025.2,579.2 1025.6,583.2 1026.1,585.2C1026.6,587.2 1027.0,589.5 1027.5,590.1C1028.2,591.0 1028.9,590.8 1029.6,591.4C1030.5,592.1 1031.3,593.6 1032.2,594.4C1032.9,595.1 1033.7,596.1 1034.4,596.1C1035.0,596.1 1035.5,595.7 1036.1,594.9C1036.7,594.1 1037.3,591.0 1037.9,589.6C1038.5,588.3 1039.0,586.8 1039.6,586.6C1040.4,586.3 1041.1,586.1 1041.9,586.1C1043.4,586.1 1044.8,586.1 1046.3,586.1C1047.0,586.1 1047.6,585.5 1048.3,584.3C1048.9,583.3 1049.4,580.2 1050.0,579.0C1050.6,577.7 1051.2,577.1 1051.8,576.9C1052.6,576.6 1053.3,576.5 1054.1,576.5C1057.3,576.5 1060.6,576.5 1063.8,576.5C1064.4,576.5 1065.1,577.1 1065.7,578.4C1066.2,579.5 1066.8,582.4 1067.3,583.7C1067.9,585.2 1068.5,586.3 1069.1,586.3C1069.7,586.3 1070.2,586.1 1070.8,585.8C1071.3,585.5 1071.7,581.7 1072.2,579.3C1072.6,577.1 1073.1,573.3 1073.5,572.2C1074.1,570.7 1074.6,570.1 1075.2,570.0C1077.0,569.7 1078.7,569.8 1080.5,569.6C1081.7,569.5 1082.9,569.1 1084.1,569.1C1085.1,569.1 1086.2,569.2 1087.2,569.3C1087.8,569.4 1088.4,570.0 1089.0,571.4C1089.5,572.5 1089.9,577.0 1090.4,579.3C1090.9,581.5 1091.3,584.4 1091.8,584.9C1092.4,585.6 1093.1,586.0 1093.7,586.0C1097.5,586.0 1101.4,586.0 1105.2,586.0C1106.4,586.0 1107.5,586.7 1108.7,586.9C1109.9,587.1 1111.0,587.2 1112.2,587.2C1113.5,587.2 1114.8,587.1 1116.1,587.0C1116.8,586.9 1117.5,586.5 1118.2,585.5C1118.8,584.7 1119.4,582.7 1120.0,581.9C1120.6,581.1 1121.2,580.5 1121.8,580.5C1122.4,580.5 1122.9,580.8 1123.5,581.4C1124.2,582.1 1124.8,583.8 1125.5,584.6C1126.2,585.4 1126.9,586.0 1127.6,586.0C1138.9,586.0 1150.3,586.0 1161.6,586.0C1162.5,586.0 1163.3,585.7 1164.2,585.1C1165.0,584.6 1165.7,583.3 1166.5,582.8C1167.2,582.3 1167.9,582.1 1168.6,582.1C1169.3,582.1 1170.0,583.1 1170.7,583.7C1171.5,584.3 1172.2,585.3 1173.0,585.6C1173.9,586.0 1174.8,586.2 1175.7,586.2C1177.2,586.2 1178.6,586.1 1180.1,586.0C1180.6,586.0 1181.2,585.2 1181.7,583.7C1182.0,582.7 1182.4,576.9 1182.7,574.0C1183.1,570.2 1183.6,565.7 1184.0,564.3C1184.5,562.6 1185.1,561.9 1185.6,561.7C1186.4,561.4 1187.2,561.3 1188.0,561.3C1189.3,561.3 1190.6,561.4 1191.9,561.5C1192.5,561.6 1193.1,562.1 1193.7,563.4C1194.0,564.1 1194.4,569.3 1194.7,572.2C1195.1,575.7 1195.5,580.9 1195.9,582.8C1196.4,585.1 1196.9,586.3 1197.4,586.3C1197.9,586.3 1198.3,585.9 1198.8,585.1C1199.2,584.4 1199.6,578.5 1200.0,575.8C1200.5,572.6 1200.9,568.9 1201.4,567.8C1202.0,566.3 1202.6,565.6 1203.2,565.6C1203.7,565.6 1204.3,565.9 1204.8,566.6C1205.3,567.2 1205.8,570.0 1206.3,571.4C1206.9,573.1 1207.5,574.8 1208.1,575.4C1208.9,576.3 1209.8,575.8 1210.6,576.7C1211.1,577.3 1211.7,579.6 1212.2,581.1C1212.7,582.4 1213.1,584.4 1213.6,584.9C1214.3,585.6 1215.0,586.0 1215.7,586.0C1219.4,586.0 1223.1,586.0 1226.8,586.0C1227.3,586.0 1227.9,585.2 1228.4,583.7C1228.7,582.7 1229.1,572.7 1229.4,567.0C1229.8,560.7 1230.1,551.4 1230.5,547.6C1230.9,543.5 1231.3,541.9 1231.7,541.4C1232.4,540.5 1233.1,540.5 1233.8,540.0C1234.6,539.4 1235.3,538.4 1236.1,537.9C1236.9,537.4 1237.6,537.0 1238.4,537.0C1238.9,537.0 1239.5,537.7 1240.0,539.1C1240.4,540.2 1240.8,545.3 1241.2,547.6C1241.7,550.3 1242.1,552.8 1242.6,553.7C1243.4,555.2 1244.1,554.6 1244.9,555.9C1245.5,556.9 1246.1,558.5 1246.7,559.9C1247.2,561.1 1247.8,563.3 1248.3,563.8C1249.1,564.5 1249.8,564.5 1250.6,564.8C1251.6,565.2 1252.6,565.5 1253.6,565.7C1254.4,565.9 1255.1,566.1 1255.9,566.1C1256.5,566.1 1257.2,565.4 1257.8,564.3C1258.4,563.3 1259.0,560.7 1259.6,559.9C1260.2,559.1 1260.7,558.7 1261.3,558.7C1261.9,558.7 1262.5,559.4 1263.1,560.3C1263.7,561.2 1264.4,563.3 1265.0,564.3C1265.8,565.5 1266.5,566.1 1267.3,566.1C1267.9,566.1 1268.5,565.5 1269.1,564.3C1269.5,563.5 1269.9,558.6 1270.3,556.4C1270.8,553.8 1271.2,551.3 1271.7,550.2C1272.5,548.5 1273.2,549.3 1274.0,547.6C1274.5,546.5 1274.9,543.6 1275.4,540.5C1275.8,537.6 1276.3,532.4 1276.7,530.0C1277.1,527.8 1277.5,526.7 1277.9,526.1C1278.3,525.5 1278.7,525.2 1279.1,525.2C1279.5,525.2 1280.0,526.2 1280.4,528.2C1280.8,530.0 1281.2,536.5 1281.6,540.5C1282.0,544.5 1282.4,550.3 1282.8,552.0C1283.3,554.3 1283.9,555.3 1284.4,555.5C1285.2,555.8 1285.9,556.0 1286.7,556.0C1289.9,556.0 1293.2,556.0 1296.4,556.0C1297.0,556.0 1297.7,555.2 1298.3,553.7C1298.7,552.7 1299.2,546.9 1299.6,544.1C1300.0,541.5 1300.4,538.1 1300.8,537.4C1301.4,536.4 1302.0,535.9 1302.6,535.9C1303.5,535.8 1304.3,535.8 1305.2,535.8C1310.2,535.8 1315.2,535.8 1320.2,535.8C1320.9,535.8 1321.6,534.9 1322.3,534.4C1323.0,533.9 1323.7,533.0 1324.4,532.8C1325.3,532.5 1326.3,532.4 1327.2,532.4C1328.6,532.4 1330.1,532.5 1331.5,532.6C1332.2,532.7 1333.0,533.5 1333.7,534.0C1334.4,534.5 1335.2,535.7 1335.9,535.8C1336.6,535.9 1337.3,535.9 1338.0,535.9C1338.8,535.9 1339.5,534.9 1340.3,534.4C1341.1,533.9 1341.8,533.0 1342.6,532.8C1343.6,532.5 1344.6,532.4 1345.6,532.4C1346.9,532.4 1348.3,532.5 1349.6,532.6C1350.3,532.7 1351.0,533.5 1351.7,534.0C1352.4,534.5 1353.1,535.6 1353.8,535.8C1354.6,536.0 1355.3,536.1 1356.1,536.1C1357.6,536.1 1359.0,536.1 1360.5,536.1C1361.1,536.1 1361.7,535.7 1362.3,534.9C1362.8,534.3 1363.2,531.0 1363.7,529.6C1364.2,528.2 1364.6,526.5 1365.1,526.4C1365.7,526.3 1366.3,526.3 1366.9,526.3C1367.6,526.3 1368.3,527.8 1369.0,528.4C1369.8,529.1 1370.7,529.9 1371.5,530.1C1372.5,530.4 1373.6,530.5 1374.6,530.5C1375.8,530.5 1376.9,530.4 1378.1,530.1C1378.7,530.0 1379.3,529.3 1379.9,527.8C1380.3,526.8 1380.7,522.6 1381.1,520.8C1381.6,518.6 1382.1,517.3 1382.6,516.9C1383.2,516.4 1383.7,516.2 1384.3,516.2C1384.9,516.2 1385.5,517.1 1386.1,518.1C1386.7,519.1 1387.2,521.0 1387.8,522.0C1388.6,523.4 1389.3,522.9 1390.1,524.8C1390.5,525.9 1391.0,526.7 1391.4,530.5C1391.7,532.8 1391.9,540.3 1392.2,544.6C1392.6,550.6 1392.9,556.3 1393.3,560.4C1393.7,564.5 1394.0,568.4 1394.4,569.3C1395.0,570.7 1395.5,570.8 1396.1,571.4C1397.0,572.4 1397.9,573.1 1398.8,573.7C1399.7,574.3 1400.5,574.1 1401.4,574.9C1402.0,575.5 1402.6,576.4 1403.2,578.1C1403.7,579.4 1404.1,582.1 1404.6,583.3C1405.2,584.8 1405.7,584.9 1406.3,585.5C1407.1,586.3 1407.8,586.0 1408.6,586.9C1409.1,587.5 1409.7,590.0 1410.2,591.3C1410.8,592.8 1411.4,594.8 1412.0,595.2C1412.8,595.7 1413.5,596.0 1414.3,596.0C1415.6,596.0 1417.0,596.0 1418.3,595.9C1418.9,595.9 1419.5,595.2 1420.1,593.9C1420.5,593.0 1420.9,589.3 1421.3,586.9C1421.7,584.3 1422.2,580.2 1422.6,578.9C1423.2,577.2 1423.7,576.4 1424.3,576.3C1425.4,576.0 1426.4,575.9 1427.5,575.9C1429.8,575.9 1432.2,575.9 1434.5,575.9C1435.3,575.9 1436.2,575.6 1437.0,574.9C1437.5,574.5 1437.9,572.4 1438.4,571.0C1438.9,569.6 1439.3,567.2 1439.8,566.6C1440.4,565.8 1441.0,565.4 1441.6,565.4C1442.2,565.4 1442.7,565.8 1443.3,566.6C1443.7,567.2 1444.2,571.8 1444.6,574.5C1445.1,577.4 1445.5,582.0 1446.0,583.3C1446.6,585.0 1447.2,585.7 1447.8,585.8C1448.7,585.9 1449.5,586.0 1450.4,586.0C1451.6,586.0 1452.7,585.9 1453.9,585.6C1454.5,585.5 1455.1,584.6 1455.7,582.5C1456.1,581.1 1456.5,575.5 1456.9,572.8C1457.3,570.2 1457.7,567.2 1458.1,566.6C1458.6,565.8 1459.2,565.4 1459.7,565.4C1460.2,565.4 1460.8,566.0 1461.3,567.1C1461.9,568.3 1462.5,571.4 1463.1,572.8C1463.7,574.1 1464.2,575.1 1464.8,575.4C1465.9,576.0 1466.9,576.1 1468.0,576.3C1469.2,576.5 1470.3,576.7 1471.5,576.7C1472.7,576.7 1473.9,576.6 1475.1,576.3C1476.1,576.1 1477.1,576.0 1478.1,575.4C1478.7,575.1 1479.2,572.8 1479.8,571.9C1480.5,570.8 1481.1,569.8 1481.8,569.8C1482.5,569.8 1483.2,570.0 1483.9,570.3C1484.6,570.6 1485.3,572.8 1486.0,573.7C1486.8,574.7 1487.5,575.9 1488.3,575.9C1489.0,575.9 1489.7,575.2 1490.4,574.5C1491.0,573.9 1491.7,572.7 1492.3,572.1C1493.1,571.3 1494.0,571.6 1494.8,570.7C1495.4,570.0 1496.1,569.3 1496.7,567.5C1497.2,566.0 1497.8,562.0 1498.3,561.3C1498.9,560.5 1499.5,560.1 1500.1,560.1C1500.7,560.1 1501.3,560.7 1501.9,561.9C1502.4,562.8 1502.8,567.9 1503.3,570.1C1503.8,572.3 1504.2,574.5 1504.7,574.9C1505.4,575.5 1506.1,575.8 1506.8,575.8C1520.0,575.8 1533.2,575.8 1546.4,575.8C1547.1,575.8 1547.7,575.1 1548.4,573.7C1548.8,572.9 1549.2,565.9 1549.6,562.2C1550.0,558.5 1550.4,553.6 1550.8,551.6C1551.3,549.3 1551.7,549.0 1552.2,548.1C1552.7,547.2 1553.2,547.5 1553.7,546.3C1554.0,545.5 1554.4,541.6 1554.7,537.5C1555.1,533.0 1555.4,524.8 1555.8,519.9C1556.2,514.6 1556.6,508.6 1557.0,507.6C1557.5,506.4 1557.9,505.8 1558.4,505.8C1558.9,505.8 1559.5,506.5 1560.0,507.6C1560.6,508.8 1561.2,511.4 1561.8,512.9C1562.4,514.4 1562.9,515.9 1563.5,516.7C1564.2,517.6 1564.8,517.2 1565.5,518.1C1565.9,518.7 1566.3,519.6 1566.7,521.7C1567.1,523.8 1567.5,528.1 1567.9,530.5C1568.3,533.0 1568.8,535.6 1569.2,536.1C1569.8,536.8 1570.5,537.2 1571.1,537.2C1572.0,537.2 1572.8,536.4 1573.7,536.1C1574.6,535.7 1575.5,535.8 1576.4,535.1C1576.9,534.8 1577.3,533.6 1577.8,530.5C1578.2,527.9 1578.6,520.0 1579.0,516.4C1579.4,512.5 1579.9,509.3 1580.3,508.5C1580.9,507.3 1581.6,507.5 1582.2,506.7C1582.9,505.8 1583.6,504.1 1584.3,503.2C1585.0,502.3 1585.7,501.1 1586.4,501.1C1587.0,501.1 1587.6,501.2 1588.2,501.4C1588.7,501.6 1589.1,503.7 1589.6,507.6C1590.0,510.9 1590.4,517.6 1590.8,521.7C1591.2,526.2 1591.7,531.6 1592.1,533.1C1592.6,534.9 1593.2,535.6 1593.7,535.8C1594.4,536.0 1595.1,536.1 1595.8,536.1C1596.8,536.1 1597.8,536.0 1598.8,535.8C1599.3,535.7 1599.7,534.6 1600.2,532.2C1600.5,530.5 1600.9,521.9 1601.2,516.4C1601.6,509.2 1602.1,499.0 1602.5,493.5C1602.9,488.4 1603.3,484.8 1603.7,483.8C1604.2,482.6 1604.6,482.0 1605.1,482.0C1605.6,482.0 1606.2,483.2 1606.7,484.7C1607.2,486.2 1607.8,489.3 1608.3,490.8C1609.0,492.9 1609.8,494.0 1610.5,494.0C1611.0,494.0 1611.4,490.7 1611.9,485.2C1612.3,480.9 1612.6,474.4 1613.0,467.5C1613.3,461.3 1613.7,452.1 1614.0,446.4C1614.4,440.1 1614.7,434.9 1615.1,432.3C1615.4,430.0 1615.8,429.1 1616.1,428.8C1616.9,428.1 1617.6,428.2 1618.4,427.7C1619.1,427.3 1619.7,427.2 1620.4,426.1C1620.8,425.5 1621.2,423.1 1621.6,421.7C1622.0,420.3 1622.4,418.1 1622.8,417.8C1623.3,417.5 1623.7,417.3 1624.2,417.3C1624.8,417.3 1625.4,419.4 1626.0,420.8C1626.6,422.2 1627.2,424.1 1627.8,425.8"/>
  <circle cx="1628" cy="426" r="17.5" fill="#0ac285" fill-opacity=".3"/>
  <circle cx="1628" cy="426" r="8" fill="#0ac285"/>
</svg>
<footer>
  <div class="abs vol">$752,572 vol</div>
  <div class="ranges">
    <span style="left:1439.2px;letter-spacing:.6px">6H</span>
    <span style="left:1507.2px"><b>1</b>D</span>
    <span style="left:1569.1px"><b>1</b>W</span>
    <span style="left:1638.5px;letter-spacing:.8px"><b>1</b>M</span>
    <span class="on" style="left:1706.3px;letter-spacing:-.7px">ALL</span>
  </div>
</footer>
</main>
</body>
</html>
